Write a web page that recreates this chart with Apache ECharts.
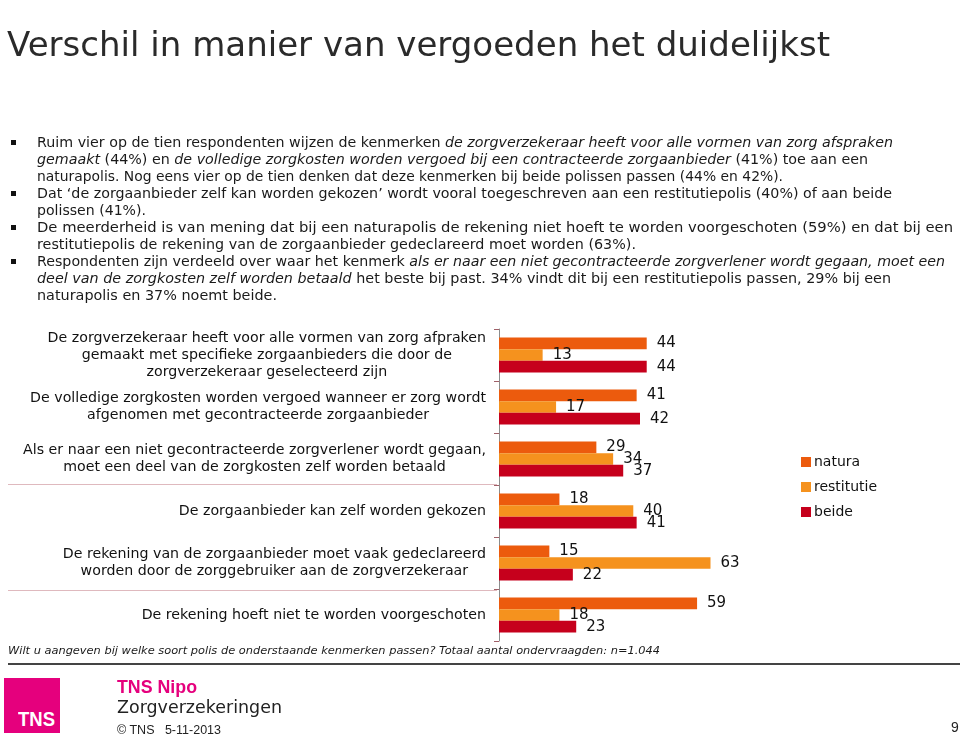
<!DOCTYPE html>
<html>
<head>
<meta charset="utf-8">
<script src="https://cdn.jsdelivr.net/npm/echarts@6/dist/echarts.min.js"></script>
<style>
  html, body { margin: 0; padding: 0; background: #fff; }
  body { width: 960px; height: 737px; position: relative; overflow: hidden; }
  #chart { position: absolute; left: 0; top: 0; width: 960px; height: 737px; }
  .t { position: absolute; white-space: nowrap; color: #1a1a1a; transform-origin: 0 50%; }
  #title { left: 7px; top: 25px; font-family: "DejaVu Sans", sans-serif; font-size: 33px; color: #2a2a2a; }
  .bl { font-family: "DejaVu Sans", sans-serif; font-size: 13.5px; line-height: 17px; left: 37px; }
  .sq { position: absolute; left: 11px; width: 5px; height: 5px; background: #111; }
  #q { left: 8px; top: 644px; font-family: "DejaVu Sans", sans-serif; font-size: 11px; font-style: italic; }
  #rule { position: absolute; left: 8px; top: 663px; width: 952px; height: 2px; background: #444; }
  #logo { position: absolute; left: 4px; top: 678px; width: 56px; height: 55px; background: #E5007D; overflow: hidden; }
  #logo span { position: absolute; left: 14px; top: 29px; color: #fff; font-family: "Liberation Sans Narrow", "Liberation Sans", sans-serif; font-weight: bold; font-size: 21px; white-space: nowrap; transform-origin: 0 50%; }
  #nipo { left: 117px; top: 676px; font-family: "Liberation Sans", sans-serif; font-weight: bold; font-size: 19px; color: #E5007D; }
  #zv { left: 117px; top: 696px; font-family: "DejaVu Sans", sans-serif; font-size: 18px; color: #222; }
  #copy { left: 117px; top: 723px; font-family: "Liberation Sans", sans-serif; font-size: 12px; color: #222; }
  #pg { left: 951px; top: 719px; font-family: "Liberation Sans", sans-serif; font-size: 14px; color: #222; }
  .sep { position: absolute; left: 8px; width: 489px; height: 1px; background: #c98a92; opacity: 0.6; }
</style>
</head>
<body>
<div id="chart"></div>
<div class="t" id="title" data-w="823">Verschil in manier van vergoeden het duidelijkst</div>

<div class="sq" style="top:140px"></div>
<div class="t bl" style="top:134px" data-w="856">Ruim vier op de tien respondenten wijzen de kenmerken <i>de zorgverzekeraar heeft voor alle vormen van zorg afspraken</i></div>
<div class="t bl" style="top:151px" data-w="831"><i>gemaakt</i> (44%) en <i>de volledige zorgkosten worden vergoed bij een contracteerde zorgaanbieder</i> (41%) toe aan een</div>
<div class="t bl" style="top:168px" data-w="746">naturapolis. Nog eens vier op de tien denken dat deze kenmerken bij beide polissen passen (44% en 42%).</div>

<div class="sq" style="top:191px"></div>
<div class="t bl" style="top:185px" data-w="855">Dat ‘de zorgaanbieder zelf kan worden gekozen’ wordt vooral toegeschreven aan een restitutiepolis (40%) of aan beide</div>
<div class="t bl" style="top:202px" data-w="109">polissen (41%).</div>

<div class="sq" style="top:225px"></div>
<div class="t bl" style="top:219px" data-w="916">De meerderheid is van mening dat bij een naturapolis de rekening niet hoeft te worden voorgeschoten (59%) en dat bij een</div>
<div class="t bl" style="top:236px" data-w="599">restitutiepolis de rekening van de zorgaanbieder gedeclareerd moet worden (63%).</div>

<div class="sq" style="top:259px"></div>
<div class="t bl" style="top:253px" data-w="908">Respondenten zijn verdeeld over waar het kenmerk <i>als er naar een niet gecontracteerde zorgverlener wordt gegaan, moet een</i></div>
<div class="t bl" style="top:270px" data-w="854"><i>deel van de zorgkosten zelf worden betaald</i> het beste bij past. 34% vindt dit bij een restitutiepolis passen, 29% bij een</div>
<div class="t bl" style="top:287px" data-w="240">naturapolis en 37% noemt beide.</div>

<div class="sep" style="top:484px"></div>
<div class="sep" style="top:590px"></div>

<div class="t" id="q" data-w="652">Wilt u aangeven bij welke soort polis de onderstaande kenmerken passen? Totaal aantal ondervraagden: n=1.044</div>
<div id="rule"></div>
<div id="logo"><span data-w="37">TNS</span></div>
<div class="t" id="nipo" data-w="80">TNS Nipo</div>
<div class="t" id="zv" data-w="165">Zorgverzekeringen</div>
<div class="t" id="copy" data-w="104">© TNS &nbsp;&nbsp;5-11-2013</div>
<div class="t" id="pg">9</div>

<script>
const categories = [
  'De zorgverzekeraar heeft voor alle vormen van zorg afpraken\ngemaakt met specifieke zorgaanbieders die door de\nzorgverzekeraar geselecteerd zijn',
  'De volledige zorgkosten worden vergoed wanneer er zorg wordt\nafgenomen met gecontracteerde zorgaanbieder',
  'Als er naar een niet gecontracteerde zorgverlener wordt gegaan,\nmoet een deel van de zorgkosten zelf worden betaald',
  'De zorgaanbieder kan zelf worden gekozen',
  'De rekening van de zorgaanbieder moet vaak gedeclareerd\nworden door de zorggebruiker aan de zorgverzekeraar',
  'De rekening hoeft niet te worden voorgeschoten'
];
const seriesNames = ['natura', 'restitutie', 'beide'];
const natura = [44, 41, 29, 18, 15, 59];
const restitutie = [13, 17, 34, 40, 63, 18];
const beide = [44, 42, 37, 41, 22, 23];

const colors = ['#EC5B0D', '#F5921E', '#C6001C'];
const values = [natura, restitutie, beide];

// fit text lines to the widths seen in the reference
document.querySelectorAll('[data-w]').forEach(el => {
  const w = el.getBoundingClientRect().width;
  const target = parseFloat(el.getAttribute('data-w'));
  if (w > 0) el.style.transform = 'scaleX(' + (target / w) + ')';
});

const chart = echarts.init(document.getElementById('chart'), null, { renderer: 'canvas' });
chart.setOption({
  animation: false,
  textStyle: { fontFamily: 'DejaVu Sans' },
  legend: {
    orient: 'vertical',
    left: 796,
    top: 450,
    itemWidth: 10,
    itemHeight: 10,
    itemGap: 11,
    icon: 'rect',
    textStyle: { fontSize: 14, color: '#111', fontFamily: 'DejaVu Sans', padding: [0, 0, 0, -2] },
    data: seriesNames
  },
  grid: { left: 499, top: 329, height: 312, width: 235, containLabel: false },
  xAxis: {
    type: 'value', min: 0, max: 70, show: false
  },
  yAxis: {
    type: 'category',
    inverse: true,
    data: categories,
    axisLine: { show: true, lineStyle: { color: '#8c8c8c', width: 1 } },
    axisTick: { show: true, length: 5, lineStyle: { color: '#a06068' } },
    axisLabel: {
      margin: 13,
      fontSize: 14,
      color: '#111',
      fontFamily: 'DejaVu Sans',
      lineHeight: 17,
      formatter: v => v.split('\n').map(l => '{c|' + l + '}').join('\n'),
      rich: { c: { align: 'center', fontSize: 14.2, lineHeight: 17, color: '#111', fontFamily: 'DejaVu Sans' } }
    }
  },
  series: seriesNames.map((n, i) => ({
    name: n,
    type: 'bar',
    data: values[i],
    barWidth: 11.7,
    barGap: '0%',
    itemStyle: { color: colors[i] },
    label: {
      show: true, position: 'right', distance: 10,
      fontSize: 15, color: '#111', fontFamily: 'DejaVu Sans'
    }
  }))
});
</script>
</body>
</html>
